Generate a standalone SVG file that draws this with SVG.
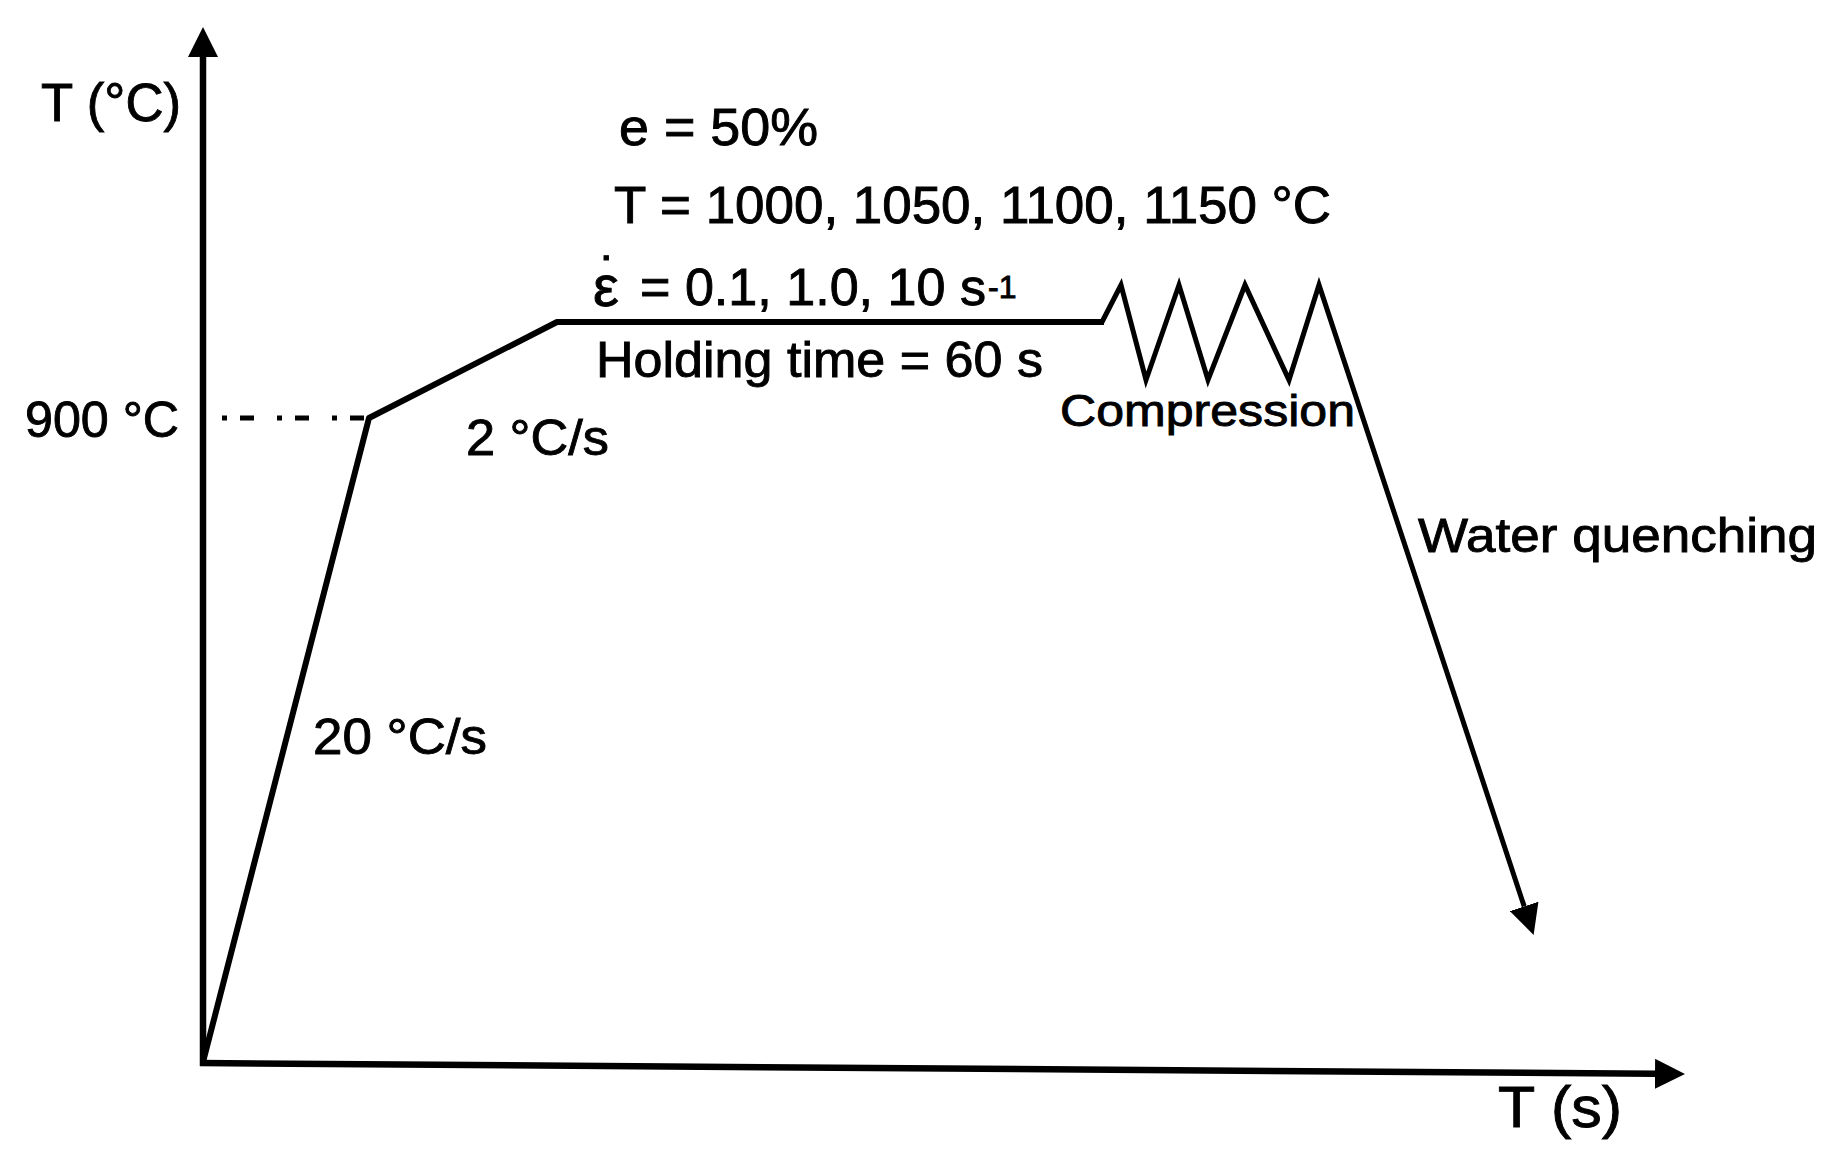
<svg xmlns="http://www.w3.org/2000/svg" width="1836" height="1167" viewBox="0 0 1836 1167">
<style>
  text { font-family: "Liberation Sans", Arial, "DejaVu Sans", sans-serif; fill: #000; stroke: #000; stroke-width: 0.9; }
  .ax { stroke: #000; stroke-width: 6.5; fill: none; }
  .path { stroke: #000; stroke-width: 6; fill: none; stroke-linejoin: round; }
  .thin { stroke: #000; stroke-width: 5; fill: none; stroke-linejoin: miter; }
  .dd { stroke: #000; stroke-width: 5; fill: none; stroke-dasharray: 5 13 14 23; }
</style>
<defs>
  <marker id="ah" markerUnits="userSpaceOnUse" markerWidth="30" markerHeight="30" refX="0" refY="14" orient="auto" viewBox="0 0 28 28">
    <path d="M0,0 L28,14 L0,28 z" fill="#000"/>
  </marker>
</defs>
<rect width="1836" height="1167" fill="#fff"/>

<g id="connectors">
  <line id="y-axis" class="ax" x1="203" y1="1066" x2="203" y2="57" marker-end="url(#ah)"/>
  <line id="x-axis" class="ax" x1="200" y1="1063" x2="1655" y2="1073.8" marker-end="url(#ah)"/>
  <line id="guide-900" class="dd" x1="222" y1="418" x2="366" y2="418"/>
  <polyline id="heating" class="path" points="203,1062 369,418 557,322 1104,322"/>
  <polyline id="compression-zigzag" class="thin" points="1102,322 1121,285 1146,380 1179,285 1208,380 1245,285 1289,380 1319,285 1524.2,906.4" marker-end="url(#ah)"/>
</g>

<g id="label-y-axis"><text x="41" y="121" font-size="53" textLength="140" lengthAdjust="spacingAndGlyphs">T (°C)</text></g>
<g id="label-x-axis"><text x="1498" y="1127" font-size="58" textLength="124" lengthAdjust="spacingAndGlyphs">T (s)</text></g>
<g id="label-900"><text x="25" y="437" font-size="50" textLength="154" lengthAdjust="spacingAndGlyphs">900 °C</text></g>
<g id="label-e"><text x="619" y="145" font-size="52" textLength="199" lengthAdjust="spacingAndGlyphs">e = 50%</text></g>
<g id="label-T"><text x="614" y="223" font-size="51" textLength="717" lengthAdjust="spacingAndGlyphs">T = 1000, 1050, 1100, 1150 °C</text></g>
<g id="label-strainrate">
  <text font-size="58"><tspan x="593" y="306">ε</tspan><tspan x="600" y="293" font-size="52">˙</tspan></text>
  <text x="640" y="305" font-size="52" textLength="346" lengthAdjust="spacingAndGlyphs">= 0.1, 1.0, 10 s</text>
  <text x="988" y="298" font-size="32">-1</text>
</g>
<g id="label-holding"><text x="596" y="377" font-size="50" textLength="447" lengthAdjust="spacingAndGlyphs">Holding time = 60 s</text></g>
<g id="label-2cs"><text x="466" y="455" font-size="50" textLength="143" lengthAdjust="spacingAndGlyphs">2 °C/s</text></g>
<g id="label-20cs"><text x="313" y="754" font-size="50" textLength="174" lengthAdjust="spacingAndGlyphs">20 °C/s</text></g>
<g id="label-compression"><text x="1060" y="426" font-size="45" textLength="295" lengthAdjust="spacingAndGlyphs">Compression</text></g>
<g id="label-quenching"><text x="1418" y="552" font-size="48" textLength="399" lengthAdjust="spacingAndGlyphs">Water quenching</text></g>
</svg>
